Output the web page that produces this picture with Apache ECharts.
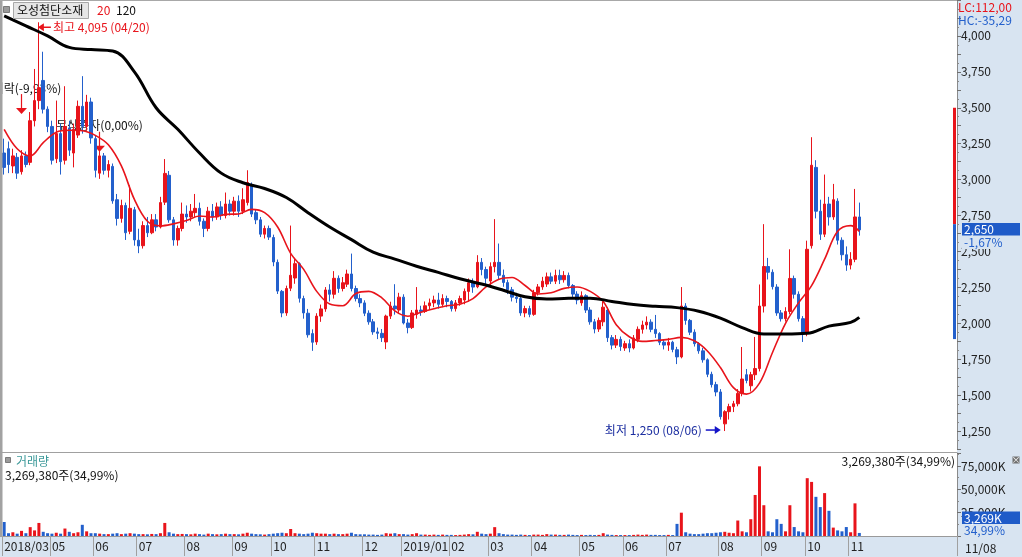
<!DOCTYPE html>
<html><head><meta charset="utf-8">
<script src="https://cdn.jsdelivr.net/npm/echarts@6/dist/echarts.min.js"></script>
<style>html,body{margin:0;padding:0;background:#fff}#c{width:1022px;height:557px}</style>
</head><body><div id="c"></div>
<script>
// ---- tick labels (one per month, '' = hidden) ----
const monthLabels = ['2018/03','','05','06','07','08','09','10','11','12','2019/01','02','03','04','05','06','07','08','09','10','11'];
// ---- price candles [open, close, low, high], two trading days per candle ----
const p1803 = [[3185,3085,3035,3285]];
const p1804 = [[3215,3105,3045,3265],[3095,3165,3045,3215],[3155,3045,3005,3185],[3055,3165,3035,3205],[3165,3105,3085,3195],[3120,3410,3100,3470],[3410,3550,3370,3770],[3550,3640,3490,4095],[3690,3490,3460,3890],[3490,3370,3330,3510]];
const p1805 = [[3370,3135,3105,3410],[3145,3320,3115,3550],[3320,3125,3035,3390],[3135,3370,3105,3650],[3360,3205,3165,3410],[3185,3350,3085,3390],[3310,3510,3290,3550],[3510,3370,3320,3720],[3370,3540,3340,3590],[3540,3290,3250,3570]];
const p1806 = [[3285,3065,3015,3305],[3045,3165,3005,3205],[3165,3065,3035,3185],[3065,3105,3015,3135],[3092,2852,2832,3112],[2860,2730,2680,2900],[2730,2820,2700,2860],[2820,2630,2580,2840],[2640,2800,2620,2960],[2790,2580,2540,2810]];
const p1807 = [[2578,2538,2488,2658],[2540,2680,2520,2710],[2680,2630,2600,2740],[2630,2720,2620,2760],[2720,2670,2640,2760],[2670,2840,2660,2880],[2843,3043,2823,3143],[3030,2720,2700,3060],[2720,2580,2540,2740],[2580,2660,2540,2680],[2660,2760,2640,2840]];
const p1808 = [[2760,2740,2700,2820],[2740,2780,2710,2830],[2770,2800,2740,2900],[2800,2710,2680,2840],[2710,2660,2600,2730],[2660,2780,2640,2810],[2780,2740,2710,2830],[2740,2810,2720,2840],[2810,2750,2720,2850],[2750,2830,2730,2910],[2830,2780,2750,2860]];
const p1809 = [[2780,2850,2750,2880],[2850,2780,2740,2890],[2780,2860,2760,2940],[2840,2980,2820,3065],[2960,2760,2740,2980],[2770,2720,2690,2790],[2720,2620,2600,2740],[2620,2660,2590,2680],[2660,2600,2580,2680]];
const p1810 = [[2597,2427,2397,2617],[2424,2224,2204,2444],[2222,2072,2042,2232],[2072,2242,2052,2262],[2244,2334,2224,2680],[2315,2415,2275,2455],[2414,2174,2144,2424],[2172,2072,2032,2192],[2070,1920,1900,2100],[1928,1868,1808,1958]];
const p1811 = [[1870,2050,1850,2070],[2050,2100,2010,2130],[2100,2232,2080,2252],[2232,2202,2152,2272],[2202,2313,2172,2363],[2313,2242,2212,2333],[2242,2282,2222,2322],[2272,2343,2252,2373],[2343,2242,2222,2485],[2242,2172,2152,2262],[2172,2142,2112,2202]];
const p1812 = [[2142,2070,2050,2160],[2070,2010,1990,2090],[2010,1940,1920,2030],[1940,1930,1890,1970],[1930,1900,1870,1960],[1870,2050,1820,2060],[2050,2120,2030,2150],[2120,2100,2060,2272],[2092,2182,2072,2212]];
const p1901 = [[2182,2002,1992,2202],[2002,1970,1930,2030],[1970,2072,1960,2092],[2062,2092,2032,2252],[2092,2082,2052,2122],[2082,2122,2072,2152],[2122,2142,2092,2172],[2142,2162,2112,2192],[2162,2132,2102,2212],[2132,2172,2112,2202],[2172,2152,2112,2192]];
const p1902 = [[2152,2102,2082,2162],[2102,2142,2082,2162],[2142,2172,2122,2192],[2162,2222,2132,2242],[2222,2282,2152,2312],[2282,2252,2212,2312],[2254,2424,2244,2474],[2424,2374,2334,2454],[2374,2314,2274,2394]];
const p1903 = [[2294,2394,2254,2424],[2394,2424,2354,2725],[2424,2334,2304,2555],[2334,2284,2254,2374],[2283,2233,2203,2303],[2233,2182,2152,2253],[2182,2172,2142,2212],[2172,2072,2052,2182],[2072,2102,2042,2122],[2102,2062,2042,2122]];
const p1904 = [[2062,2213,2052,2233],[2213,2253,2193,2273],[2253,2293,2233,2323],[2273,2323,2253,2353],[2323,2293,2273,2353],[2293,2333,2273,2373],[2333,2303,2273,2373],[2303,2333,2283,2363],[2333,2263,2243,2353],[2263,2203,2183,2273],[2203,2162,2132,2223]];
const p1905 = [[2142,2192,2122,2222],[2192,2092,2072,2202],[2092,2010,1990,2112],[2010,1960,1930,2030],[1960,2020,1940,2040],[2010,2112,1980,2152],[2092,1900,1870,2112],[1900,1848,1818,1918],[1848,1888,1828,1918],[1888,1838,1808,1908]];
const p1906 = [[1828,1858,1808,1878],[1858,1828,1798,1888],[1828,1898,1818,1918],[1888,1958,1868,1978],[1958,1988,1928,2018],[1988,2008,1958,2048],[2008,1958,1938,2028],[1958,1928,1898,2058],[1928,1868,1848,1938],[1868,1848,1818,1888]];
const p1907 = [[1848,1868,1808,1898],[1868,1818,1798,1878],[1816,1766,1716,1836],[1766,2120,1756,2252],[2120,2020,1990,2140],[2020,1938,1918,2030],[1938,1858,1838,1958],[1858,1808,1788,1868],[1808,1746,1726,1828],[1746,1645,1625,1756],[1645,1573,1553,1663],[1573,1522,1492,1593]];
const p1908 = [[1522,1350,1330,1542],[1300,1385,1250,1395],[1385,1420,1330,1440],[1420,1440,1382,1460],[1440,1512,1422,1542],[1512,1612,1492,1835],[1642,1602,1582,1682],[1565,1642,1525,1662],[1642,1685,1605,1905],[1685,2120,1665,2270]];
const p1909 = [[2120,2395,2075,2690],[2395,2355,2305,2455],[2355,2255,2235,2375],[2252,2072,2052,2272],[2072,2032,2012,2092],[2032,2082,2012,2112],[2082,2312,2062,2515],[2312,2202,2172,2332],[2202,2032,2012,2222],[2032,1930,1870,2050]];
const p1910 = [[1930,2515,1910,2575],[2540,3100,2520,3295],[3085,2780,2730,3135],[2780,2620,2580,2860],[2620,2830,2600,3035],[2830,2740,2680,2880],[2740,2860,2720,2970],[2850,2578,2548,2870],[2578,2477,2437,2598],[2477,2405,2365,2535]];
const p1911 = [[2405,2445,2375,2495],[2445,2740,2425,2935],[2740,2650,2610,2840]];
// ---- volume (thousand shares), same candles ----
const v1803 = [15000];
const v1804 = [3000,4000,2500,5500,3000,9500,6000,14000,4500,3000];
const v1805 = [2500,3500,2500,8000,4500,3000,4000,12000,5000,3000];
const v1806 = [3000,2500,2000,2000,2500,3000,2000,2500,3000,2500];
const v1807 = [2000,2000,1800,2200,2000,3000,14000,4000,2500,2000,2200];
const v1808 = [2000,1800,2500,2000,1500,2500,2000,1800,2000,2500,2000];
const v1809 = [2000,1800,2500,3500,2500,2000,1800,1500,2000];
const v1810 = [2500,3000,3500,3000,7500,3000,2500,2000,2500,3500];
const v1811 = [3000,2500,2500,2000,2500,2000,2000,2500,3500,2000,1800];
const v1812 = [1800,1500,1500,1200,1500,3000,2500,3000,2000];
const v1901 = [2000,1500,2000,3000,1500,1500,1200,1500,1200,1500,1200];
const v1902 = [1200,1000,1200,1500,2000,1800,4500,2500,2000];
const v1903 = [2500,9500,3000,2000,1500,1500,1200,1500,1200,1000];
const v1904 = [1500,1500,1200,2000,1500,1500,1200,1200,1500,1200,1000];
const v1905 = [1200,1000,1200,1000,1200,3000,1500,1200,1000,1000];
const v1906 = [1000,1000,1200,1500,1200,1500,1200,1200,1000,1000];
const v1907 = [1200,1000,13000,25000,4000,2500,2000,2000,2500,3000,3000,3500];
const v1908 = [4000,4500,3500,3000,16600,5000,4000,18000,44000,74700];
const v1909 = [33000,5000,4000,18000,13000,5000,33000,9600,5000,4000];
const v1910 = [62000,58000,42000,31000,46000,27000,9000,6000,5000,9600];
const v1911 = [4000,35000,3269];
// ---- moving averages: [candle index, value] ----
const ma20Pts = [[0,3350],[3,3215],[6,3165],[9,3257],[12,3330],[15,3343],[18,3340],[21,3308],[24,3242],[27,3095],[30,2862],[33,2710],[36,2678],[39,2692],[42,2715],[45,2747],[48,2740],[51,2758],[54,2761],[57,2793],[60,2770],[63,2670],[66,2487],[69,2375],[72,2222],[75,2134],[78,2122],[81,2207],[84,2222],[87,2177],[90,2086],[93,2049],[96,2077],[99,2101],[102,2122],[105,2133],[108,2172],[111,2253],[114,2307],[117,2319],[120,2263],[123,2204],[126,2212],[129,2243],[132,2253],[135,2222],[138,2151],[141,1990],[144,1906],[147,1874],[150,1880],[153,1888],[156,1902],[159,1878],[162,1807],[165,1692],[168,1552],[171,1507],[174,1583],[177,1797],[180,2000],[183,2142],[186,2262],[189,2446],[192,2640],[195,2680],[197,2640]];
const ma120Pts = [[0,4140],[5,4070],[10,4000],[15,3920],[20,3905],[25,3895],[30,3750],[35,3500],[40,3350],[45,3185],[50,3045],[55,2978],[60,2938],[65,2875],[70,2770],[75,2670],[80,2582],[85,2495],[90,2447],[95,2397],[100,2354],[105,2310],[110,2273],[115,2230],[120,2184],[125,2169],[130,2174],[135,2175],[140,2152],[145,2130],[150,2118],[155,2109],[160,2084],[165,2036],[170,1970],[175,1925],[180,1925],[185,1930],[190,1980],[195,2006],[197,2041]];
// ---- side range bar (top, split, bottom) and events ----
const sideBar = [3500, 2690, 1890];
const events = [{idx:4, text:'권리락(-9,93%)', tip:3456},{idx:22, text:'무상증자(0,00%)', tip:3194}];

const priceMonths = [p1803,p1804,p1805,p1806,p1807,p1808,p1809,p1810,p1811,p1812,p1901,p1902,p1903,p1904,p1905,p1906,p1907,p1908,p1909,p1910,p1911];
const volMonths = [v1803,v1804,v1805,v1806,v1807,v1808,v1809,v1810,v1811,v1812,v1901,v1902,v1903,v1904,v1905,v1906,v1907,v1908,v1909,v1910,v1911];

const RED = '#e8141b', BLUE = '#2360cc', LB = '#d8e4f1';
const FONT = '"Noto Sans CJK KR","Noto Sans",sans-serif';

const cats = [], candles = [], vols = [], monthStart = {};
priceMonths.forEach((m, mi) => {
  m.forEach((c, k) => {
    const idx = cats.length;
    if (k === 0 && monthLabels[mi]) monthStart[idx] = monthLabels[mi];
    cats.push('c' + idx);
    candles.push(c);
    vols.push({value: volMonths[mi][k], itemStyle: {color: c[1] >= c[0] ? RED : BLUE}});
  });
});
const N = candles.length;
for (let i = 0; i < 22; i++) cats.push('e' + i);
function fill(pts) { const a = new Array(N).fill(null); pts.forEach(p => a[p[0]] = p[1]); return a; }
const ma20 = fill(ma20Pts), ma120 = fill(ma120Pts);
const isTick = (i) => !!monthStart[i];

const chart = echarts.init(document.getElementById('c'));
chart.setOption({
  animation: false,
  backgroundColor: '#fff',
  grid: [{left: 2, right: 65, top: -3, height: 452}, {left: 2, right: 65, top: 453, height: 83}],
  xAxis: [
    {type: 'category', gridIndex: 0, data: cats, boundaryGap: true, show: false},
    {type: 'category', gridIndex: 1, data: cats, boundaryGap: true,
      axisLine: {lineStyle: {color: '#9a9a9a'}},
      axisTick: {show: true, interval: isTick, length: 20, lineStyle: {color: '#a0a0a0'}},
      axisLabel: {interval: isTick, formatter: (v, i) => monthStart[i] || '', align: 'left', margin: 4, color: '#222', fontSize: 12, fontFamily: FONT},
      splitLine: {show: false}}
  ],
  yAxis: [
    {type: 'value', gridIndex: 0, position: 'right', min: 1125, max: 4250, interval: 125,
      axisLine: {show: true, lineStyle: {color: '#8a8a8a'}},
      axisTick: {show: true, length: 4, lineStyle: {color: '#707070'}},
      minorTick: {show: true, splitNumber: 2, length: 2, lineStyle: {color: '#8a8a8a'}},
      axisLabel: {formatter: v => (v % 250 === 0 && v >= 1250 && v <= 4000) ? v.toLocaleString('en-US') : '', margin: 4, color: '#222', fontSize: 12, fontFamily: FONT},
      splitLine: {show: false}},
    {type: 'value', gridIndex: 1, position: 'right', min: 0, max: 89000, interval: 25000,
      axisLine: {show: true, lineStyle: {color: '#8a8a8a'}},
      axisTick: {show: true, length: 4, lineStyle: {color: '#707070'}},
      minorTick: {show: true, splitNumber: 2, length: 2, lineStyle: {color: '#8a8a8a'}},
      axisLabel: {formatter: v => (v > 0 && v % 25000 === 0) ? v.toLocaleString('en-US') + 'K' : '', margin: 4, color: '#222', fontSize: 12, fontFamily: FONT},
      splitLine: {show: false}}
  ],
  series: [
    {type: 'candlestick', xAxisIndex: 0, yAxisIndex: 0, data: candles, barWidth: 3, z: 2,
      itemStyle: {color: RED, color0: BLUE, borderColor: RED, borderColor0: BLUE, borderWidth: 1}},
    {type: 'line', xAxisIndex: 0, yAxisIndex: 0, data: ma20, connectNulls: true, smooth: 0.35, symbol: 'none', z: 3,
      lineStyle: {color: RED, width: 1.6}},
    {type: 'line', xAxisIndex: 0, yAxisIndex: 0, data: ma120, connectNulls: true, smooth: 0.4, symbol: 'none', z: 3,
      lineStyle: {color: '#000', width: 3}},
    {type: 'bar', xAxisIndex: 1, yAxisIndex: 1, data: vols, barWidth: 3, z: 2}
  ]
});

const P = (i, v) => chart.convertToPixel({xAxisIndex: 0, yAxisIndex: 0}, [i, v]);
const T = (text, x, y, fill, align, extra) => Object.assign({type: 'text', z: 150, style: {text, x, y, fill, font: '12px ' + FONT, align: align || 'left', verticalAlign: 'middle', textAlign: align || 'left', textVerticalAlign: 'middle'}}, extra || {});
const R = (x, y, w, h, fill, z, stroke) => ({type: 'rect', z: z, shape: {x, y, width: w, height: h}, style: {fill, stroke: stroke || null, lineWidth: 1}});
const g = [];
const RX = 957;
// backgrounds
g.push(R(RX, 0, 1022 - RX, 557, LB, -10));
g.push(R(0, 537, 1022, 20, LB, -10));
// borders
g.push(R(0, 0, 2.5, 537, '#a2a2a2', 120));
g.push(R(0, 0, RX, 1, '#a8a8a8', 120));
g.push(R(0, 452, RX, 1, '#a0a0a0', 120));
// legend
g.push(R(3.5, 6.5, 6, 6, '#9a9a9a', 110, '#7a7a7a'));
g.push(R(13.5, 2.5, 75, 16, '#e6e6e6', 110, '#a8a8a8'));
g.push(T('오성첨단소재', 17, 10, '#111'));
g.push(T('20', 97, 10, RED));
g.push(T('120', 116, 10, '#111'));
g.push(R(5.5, 457.5, 5, 5, '#9a9a9a', 110, '#7a7a7a'));
g.push(T('거래량', 16, 461, '#3a9898'));
g.push(T('3,269,380주(34,99%)', 5, 475, '#111'));
g.push(T('3,269,380주(34,99%)', 955, 461, '#111', 'right'));
// extreme markers
let hi = 0, lo = 0;
candles.forEach((c, i) => { if (c[3] > candles[hi][3]) hi = i; if (c[2] < candles[lo][2]) lo = i; });
const hp = P(hi, candles[hi][3]);
const htx = hp[0] - 1, hty = hp[1] + 5;
g.push({type: 'polygon', z: 100, shape: {points: [[htx, hty], [htx + 6, hty - 4], [htx + 6, hty + 4]]}, style: {fill: RED}});
g.push({type: 'line', z: 100, shape: {x1: htx + 5, y1: hty, x2: htx + 13, y2: hty}, style: {stroke: RED, lineWidth: 1.5}});
g.push(T('최고 ' + candles[hi][3].toLocaleString('en-US') + ' (04/20)', htx + 15, hty, RED));
const lp = P(lo, candles[lo][2]);
const ltx = lp[0] - 4, lty = lp[1] - 1;
g.push({type: 'polygon', z: 100, shape: {points: [[ltx, lty], [ltx - 6, lty - 4], [ltx - 6, lty + 4]]}, style: {fill: '#1414c8'}});
g.push({type: 'line', z: 100, shape: {x1: ltx - 15, y1: lty, x2: ltx - 5, y2: lty}, style: {stroke: '#1414c8', lineWidth: 1.5}});
g.push(T('최저 ' + candles[lo][2].toLocaleString('en-US') + ' (08/06)', ltx - 19, lty, '#1c2ea0', 'right'));
// events (behind candles)
events.forEach(e => {
  const p = P(e.idx, e.tip);
  const x = Math.round(p[0] - 0.5) + 0.5, y = p[1];
  g.push({type: 'line', z: 0, shape: {x1: x, y1: y - 20, x2: x, y2: y - 4}, style: {stroke: RED, lineWidth: 1.2}});
  g.push({type: 'polygon', z: 0, shape: {points: [[x, y], [x - 5.5, y - 6], [x + 5.5, y - 6]]}, style: {fill: RED}});
  g.push(T(e.text, x, y - 26, '#111', 'center', {z: 0}));
});
// side range bar
const sTop = P(0, sideBar[0])[1], sMid = P(0, sideBar[1])[1], sBot = P(0, sideBar[2])[1];
g.push(R(RX - 4, sTop, 3, sMid - sTop, RED, 50));
g.push(R(RX - 4, sMid, 3, sBot - sMid, BLUE, 50));
// right labels
g.push(T('LC:112,00', 958, 7, RED));
g.push(T('HC:-35,29', 958, 20, BLUE));
const last = candles[N - 1][1];
const ly = P(N - 1, last)[1];
g.push(R(962, ly - 7, 58, 12.5, '#1f5bc8', 100));
g.push(T(last.toLocaleString('en-US'), 964, ly - 0.5, '#fff'));
g.push(R(962, ly + 6, 58, 13, LB, 100));
g.push(T('-1,67%', 964, ly + 12.5, BLUE));
g.push(R(962, 511.5, 58, 12.5, '#1f5bc8', 100));
g.push(T('3,269K', 964, 518, '#fff'));
g.push(R(962, 524.5, 58, 12, LB, 100));
g.push(T('34,99%', 964, 530, BLUE));
g.push(T('11/08', 965, 548, '#222'));
g.push(R(1012.5, 456.5, 7, 7, '#707070', 100));
g.push({type: 'text', z: 150, style: {text: '×', x: 1016, y: 460, fill: '#fff', font: '9px ' + FONT, align: 'center', verticalAlign: 'middle', textAlign: 'center', textVerticalAlign: 'middle'}});
chart.setOption({graphic: g});
</script></body></html>
